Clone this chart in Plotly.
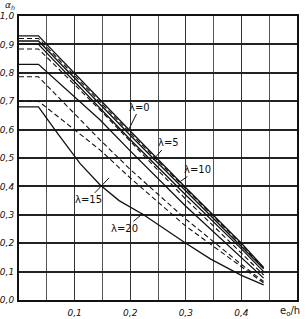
import plotly.graph_objects as go

# axis ticks
x_ticks = [0.1, 0.2, 0.3, 0.4]
x_labels = ["0,1", "0,2", "0,3", "0,4"]
y_ticks = [0.0, 0.1, 0.2, 0.3, 0.4, 0.5, 0.6, 0.7, 0.8, 0.9, 1.0]
y_labels = ["0,0", "0,1", "0,2", "0,3", "0,4", "0,5", "0,6", "0,7", "0,8", "0,9", "1,0"]

# solid curves (lambda = 0, 5, 10, 15, 20)
s0_x = [0.0, 0.035, 0.2, 0.3, 0.4, 0.44]
s0_y = [0.93, 0.93, 0.595, 0.395, 0.20, 0.115]
s5_x = [0.0, 0.035, 0.2, 0.3, 0.4, 0.44]
s5_y = [0.912, 0.912, 0.58, 0.385, 0.19, 0.11]
s10_x = [0.0, 0.035, 0.2, 0.3, 0.4, 0.44]
s10_y = [0.90, 0.90, 0.565, 0.37, 0.18, 0.10]
s15_x = [0.0, 0.035, 0.146, 0.2, 0.3, 0.4, 0.44]
s15_y = [0.83, 0.83, 0.634, 0.525, 0.33, 0.15, 0.077]
s20_x = [0.0, 0.035, 0.07, 0.11, 0.146, 0.18, 0.224, 0.296, 0.344, 0.4, 0.44]
s20_y = [0.68, 0.68, 0.585, 0.48, 0.405, 0.35, 0.30, 0.205, 0.145, 0.087, 0.053]

# dashed curves
d5_x = [0.0, 0.035, 0.2, 0.3, 0.4, 0.44]
d5_y = [0.921, 0.921, 0.588, 0.39, 0.195, 0.112]
d10_x = [0.0, 0.035, 0.146, 0.2, 0.3, 0.4, 0.44]
d10_y = [0.884, 0.884, 0.669, 0.56, 0.355, 0.165, 0.088]
d15_x = [0.0, 0.035, 0.146, 0.2, 0.3, 0.4, 0.44]
d15_y = [0.786, 0.786, 0.563, 0.46, 0.285, 0.125, 0.065]
d20_x = [0.0, 0.035, 0.146, 0.2, 0.3, 0.4, 0.44]
d20_y = [0.70, 0.70, 0.528, 0.43, 0.26, 0.115, 0.06]

solid = [(s0_x, s0_y), (s5_x, s5_y), (s10_x, s10_y), (s15_x, s15_y), (s20_x, s20_y)]
dashed = [(d5_x, d5_y), (d10_x, d10_y), (d15_x, d15_y), (d20_x, d20_y)]

fig = go.Figure()
for xs, ys in solid:
    fig.add_trace(go.Scatter(x=xs, y=ys, mode="lines",
                             line=dict(color="#111", width=1.3), showlegend=False))
for xs, ys in dashed:
    fig.add_trace(go.Scatter(x=xs, y=ys, mode="lines",
                             line=dict(color="#111", width=1.1, dash="5px,3px"), showlegend=False))

lab_font = dict(family="DejaVu Sans", size=10, color="#111")
labels = [
    ("λ=0", 0.196, 0.595, 12, -24),
    ("λ=5", 0.241, 0.493, 15, -17),
    ("λ=10", 0.29, 0.417, 17, -12),
    ("λ=15", 0.162, 0.43, -21, 22),
    ("λ=20", 0.223, 0.305, -18, 15),
]
for t, x, y, ax, ay in labels:
    fig.add_annotation(x=x, y=y, text=t, showarrow=True, arrowhead=0, arrowwidth=1,
                       arrowcolor="#111", ax=ax, ay=ay, font=lab_font)

fig.add_annotation(xref="paper", yref="paper", x=-0.032, y=1.036, xanchor="center", yanchor="middle",
                   text="α<sub>h</sub>", showarrow=False,
                   font=dict(family="DejaVu Sans", size=9, color="#111", style="italic"))
fig.add_annotation(xref="paper", yref="paper", x=0.975, y=-0.039, xanchor="center", yanchor="middle",
                   text="e<sub>o</sub>/h", showarrow=False,
                   font=dict(family="DejaVu Sans", size=10, color="#111"))

fig.update_xaxes(range=[0, 0.5], tickvals=x_ticks, ticktext=x_labels, automargin=False,
                 showgrid=True, gridcolor="#333", gridwidth=1,
                 minor=dict(dtick=0.05, tick0=0, showgrid=True, gridcolor="#555", gridwidth=1),
                 showline=True, linecolor="#111", linewidth=2, mirror=True,
                 ticks="", zeroline=False, ticklabelstandoff=3,
                 tickfont=dict(family="DejaVu Sans", size=9, color="#111", style="italic"))
fig.update_yaxes(range=[0, 1.0], tickvals=y_ticks, ticktext=y_labels, automargin=False,
                 showgrid=True, gridcolor="#222", gridwidth=1.5,
                 showline=True, linecolor="#111", linewidth=2, mirror=True,
                 ticks="", zeroline=False, ticklabelstandoff=1,
                 tickfont=dict(family="DejaVu Sans", size=9, color="#111", style="italic"))
fig.update_layout(width=307, height=319, margin=dict(l=19, r=10, t=16, b=19),
                  paper_bgcolor="white", plot_bgcolor="white")
fig.write_html("out.html")
